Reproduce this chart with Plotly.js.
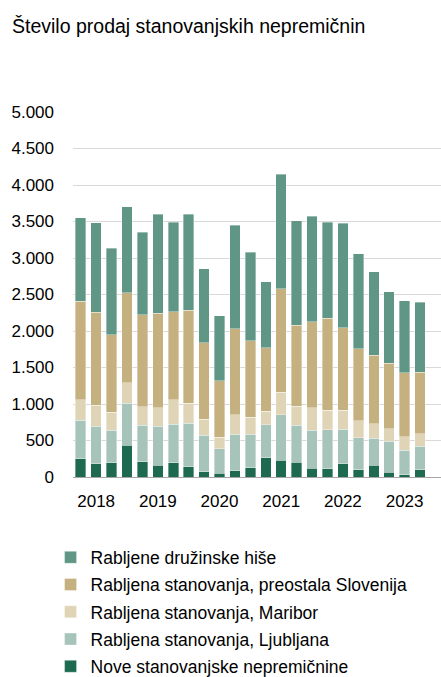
<!DOCTYPE html>
<html>
<head>
<meta charset="utf-8">
<script src="https://cdn.plot.ly/plotly-3.0.1.min.js"></script>
<style>html,body{margin:0;padding:0;background:#fff;}#chart{width:441px;height:677px;}</style>
</head>
<body>
<div id="chart"></div>
<script>
// Quarters 2018Q1 .. 2023Q3
const quarters = ["2018Q1","2018Q2","2018Q3","2018Q4","2019Q1","2019Q2","2019Q3","2019Q4","2020Q1","2020Q2","2020Q3","2020Q4","2021Q1","2021Q2","2021Q3","2021Q4","2022Q1","2022Q2","2022Q3","2022Q4","2023Q1","2023Q2","2023Q3"];
const yearTickIndex = [1, 5, 9, 13, 17, 21];
const yearTickText = ["2018", "2019", "2020", "2021", "2022", "2023"];

const nove = [251,182,196,438,210,160,192,141,73,50,87,128,264,228,201,123,114,182,100,160,68,32,100];
const ljubljana = [524,511,442,570,497,533,528,593,497,338,497,456,452,625,506,515,534,475,438,369,420,333,320];
const maribor = [283,292,247,282,255,255,338,274,223,155,269,232,182,305,260,310,264,255,233,201,173,187,173];
const preostala = [1350,1272,1062,1236,1259,1296,1208,1277,1045,775,1181,1049,876,1418,1112,1177,1263,1131,985,939,899,875,839];
const hise = [1144,1227,1186,1177,1131,1358,1222,1313,1012,894,1413,1213,898,1569,1428,1445,1318,1436,1299,1140,980,985,962];

const yTicks = [0,500,1000,1500,2000,2500,3000,3500,4000,4500,5000];
const yTickText = ["0","500","1.000","1.500","2.000","2.500","3.000","3.500","4.000","4.500","5.000"];

const xIdx = quarters.map((q, i) => i);

const series = [
  {name: "Nove stanovanjske nepremičnine", y: nove, color: "#1e6a50"},
  {name: "Rabljena stanovanja, Ljubljana", y: ljubljana, color: "#a7c4ba"},
  {name: "Rabljena stanovanja, Maribor", y: maribor, color: "#dfd4b6"},
  {name: "Rabljena stanovanja, preostala Slovenija", y: preostala, color: "#c5b07f"},
  {name: "Rabljene družinske hiše", y: hise, color: "#609685"}
];

const data = series.map((s, i) => ({
  type: "bar",
  x: xIdx,
  y: s.y,
  name: s.name,
  legendgroup: "g" + i,
  legendrank: 1000 - i,
  text: quarters,
  hoverinfo: "text+y+name",
  textposition: "none",
  marker: {color: s.color, line: {color: "rgba(255,255,255,0.6)", width: 0.6}}
}));

const layout = {
  width: 441,
  height: 677,
  barmode: "stack",
  bargap: 0.32,
  paper_bgcolor: "#fff",
  plot_bgcolor: "#fff",
  font: {family: "Liberation Sans, Arial, sans-serif", color: "#000", size: 17},
  title: {
    text: "Število prodaj stanovanjskih nepremičnin",
    font: {size: 19.5, family: "Liberation Sans, Arial, sans-serif", color: "#000"},
    x: 12/441, xanchor: "left", xref: "container",
    y: 1 - 26/677, yanchor: "middle", yref: "container"
  },
  margin: {l: 73, r: 0, t: 112, b: 200, pad: 0, autoexpand: false},
  xaxis: {
    range: [-0.5, 23.36],
    tickmode: "array",
    tickvals: yearTickIndex,
    ticktext: yearTickText,
    showgrid: false,
    zeroline: false,
    showline: true,
    linecolor: "#a6a6a6",
    linewidth: 1,
    ticks: "",
    tickangle: 0,
    tickfont: {size: 17},
    ticklabelstandoff: 9
  },
  yaxis: {
    range: [0, 5000],
    tickmode: "array",
    tickvals: yTicks,
    ticktext: yTickText,
    showgrid: true,
    gridcolor: "#d9d9d9",
    gridwidth: 1,
    zeroline: false,
    showline: false,
    ticks: "",
    tickfont: {size: 17},
    ticklabelstandoff: 18
  },
  showlegend: true,
  legend: {
    orientation: "v",
    traceorder: "grouped",
    xref: "paper", yref: "paper",
    x: -0.061, xanchor: "left",
    y: -0.171, yanchor: "top",
    font: {size: 17.5, color: "#000"},
    bgcolor: "rgba(0,0,0,0)",
    tracegroupgap: 1.5
  }
};

Plotly.newPlot("chart", data, layout, {displayModeBar: false, staticPlot: true});
</script>
</body>
</html>
